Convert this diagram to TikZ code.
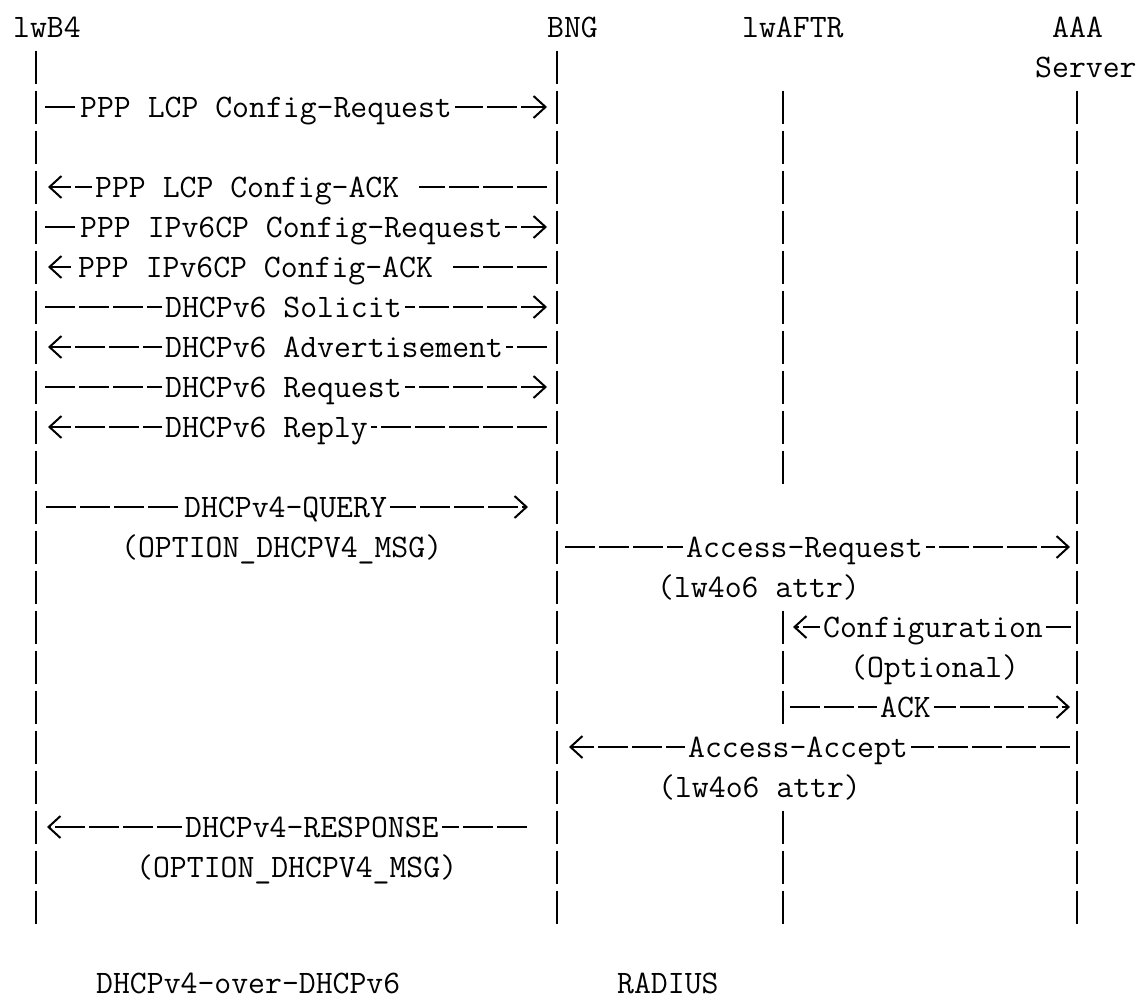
\documentclass[tikz,border=0pt]{standalone}
\usepackage{fontspec}
\usetikzlibrary{arrows.meta}

\begin{document}
\begin{tikzpicture}[x=1pt,y=-1pt,
    txt/.style={font=\ttfamily\fontsize{32.8}{33}\selectfont,inner sep=0pt,anchor=base west},
    lbl/.style={txt,fill=white,inner xsep=3pt,inner ysep=3pt},
    life/.style={line width=2.2pt,dash pattern=on 33pt off 7pt},
    msg/.style={line width=2pt,dash pattern=on 30pt off 4pt},
    tip/.style={-{Straight Barb[length=12pt,width=22pt,line width=2pt]}}]

\useasboundingbox (0,0) rectangle (1139,1002);

%entities
\node[txt] (lwb4) at (13,37) {lwB4};
\node[txt] (bng) at (547,37) {BNG};
\node[txt] (lwaftr) at (742,37) {lwAFTR};
\node[txt] (aaa) at (1052,37) {AAA};
\node[txt] (server) at (1035,77) {Server};

%lifelines
\coordinate (A) at (36,0);
\coordinate (B) at (557,0);
\coordinate (C) at (783,0);
\coordinate (D) at (1077,0);

\draw[life] (A |- 0,50.5) -- (A |- 0,923.5);
\draw[life] (B |- 0,50.5) -- (B |- 0,923.5);
\draw[life] (C |- 0,90.5) -- (C |- 0,483.5);
\draw[life] (C |- 0,610.5) -- (C |- 0,723.5);
\draw[life] (C |- 0,810.5) -- (C |- 0,923.5);
\draw[life] (D |- 0,90.5) -- (D |- 0,923.5);

%PPP
\draw[msg,tip,shorten <=9pt,shorten >=10pt] (A |- 0,107) -- (B |- 0,107);
\node[lbl] (lcpreq) at (77,117) {PPP LCP Config-Request};
\draw[msg,tip,shorten <=10pt,shorten >=12pt] (B |- 0,187) -- (A |- 0,187);
\node[lbl] (lcpack) at (92,197) {PPP LCP Config-ACK\ \ };
\draw[msg,tip,shorten <=9pt,shorten >=10pt] (A |- 0,227) -- (B |- 0,227);
\node[lbl] (ipv6cpreq) at (77,237) {PPP IPv6CP Config-Request};
\draw[msg,tip,shorten <=10pt,shorten >=12pt] (B |- 0,267) -- (A |- 0,267);
\node[lbl] (ipv6cpack) at (75,277) {PPP IPv6CP Config-ACK\ \ };

%DHCPv6
\draw[msg,tip,shorten <=9pt,shorten >=10pt] (A |- 0,307) -- (B |- 0,307);
\node[lbl] (solicit) at (162,317) {DHCPv6 Solicit};
\draw[msg,tip,shorten <=10pt,shorten >=12pt] (B |- 0,347) -- (A |- 0,347);
\node[lbl] (advert) at (162,357) {DHCPv6 Advertisement};
\draw[msg,tip,shorten <=9pt,shorten >=10pt] (A |- 0,387) -- (B |- 0,387);
\node[lbl] (request) at (162,397) {DHCPv6 Request};
\draw[msg,tip,shorten <=10pt,shorten >=12pt] (B |- 0,427) -- (A |- 0,427);
\node[lbl] (reply) at (162,437) {DHCPv6 Reply};

%DHCPv4 over DHCPv6
\coordinate (qry) at (528,507);
\draw[msg,tip,shorten <=10pt] (A |- qry) -- (qry);
\node[lbl] (query) at (181,517) {DHCPv4-QUERY};
\node[txt] (qmsg) at (121,557) {(OPTION\_DHCPV4\_MSG)};

%RADIUS
\draw[msg,tip,shorten <=8pt,shorten >=7pt] (B |- 0,547) -- (D |- 0,547);
\node[lbl] (accreq) at (683,557) {Access-Request};
\node[txt] (reqattr) at (657,597) {(lw4o6 attr)};
\draw[msg,tip,shorten <=6pt,shorten >=10pt] (D |- 0,627) -- (C |- 0,627);
\node[lbl] (config) at (820,637) {Configuration};
\node[txt] (optional) at (850,677) {(Optional)};
\draw[msg,tip,shorten <=7pt,shorten >=7pt] (C |- 0,707) -- (D |- 0,707);
\node[lbl] (ack) at (877,717) {ACK};
\draw[msg,tip,shorten <=7pt,shorten >=12pt] (D |- 0,747) -- (B |- 0,747);
\node[lbl] (accacc) at (685,757) {Access-Accept};
\node[txt] (accattr) at (658,797) {(lw4o6 attr)};

%response
\coordinate (rsp) at (527,827);
\draw[msg,tip,shorten >=11pt] (rsp) -- (A |- rsp);
\node[lbl] (response) at (182,837) {DHCPv4-RESPONSE};
\node[txt] (rmsg) at (136,877) {(OPTION\_DHCPV4\_MSG)};

%bottom
\node[txt] (over) at (96,993) {DHCPv4-over-DHCPv6};
\node[txt] (radius) at (617,993) {RADIUS};

\end{tikzpicture}
\end{document}
